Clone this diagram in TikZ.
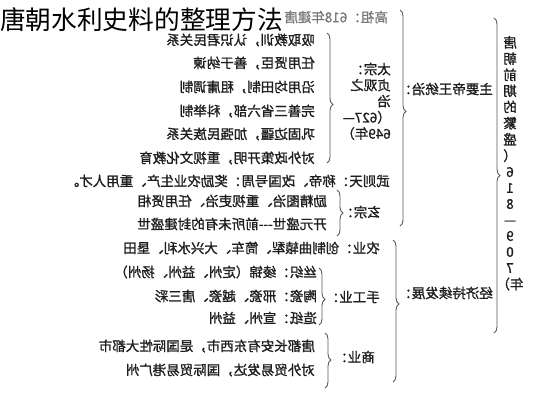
\documentclass[tikz,border=0pt]{standalone}
\usepackage{fontspec}
\usepackage{graphicx}
\newfontfamily\cjk{Noto Sans CJK SC}
\newfontfamily\cjkb[FakeBold=1.2]{Noto Sans CJK SC}
\usetikzlibrary{decorations.pathreplacing}
\definecolor{ink}{HTML}{1E1E1E}
\definecolor{soft}{HTML}{7A7A7A}
\definecolor{bracec}{HTML}{5A5A5A}
\newcommand{\mr}[1]{\reflectbox{#1}}
\begin{document}
\begin{tikzpicture}[x=1pt,y=-1pt,
  txt/.style={font=\cjkb\fontsize{13.5}{15.5}\selectfont, inner sep=0pt, anchor=east, text=ink},
  br/.style={draw=bracec, line width=0.9pt, decorate, decoration={brace, amplitude=6pt}}]
\fill[white] (0,0) rectangle (533,400);
\useasboundingbox (0,0) rectangle (533,400);

% vertical heading
\node[txt, anchor=center] (head) at (510,165) {\mr{\fontsize{13.5}{16}\selectfont\begin{tabular}{@{}c@{}}唐\\朝\\前\\期\\的\\繁\\盛\\（\\6\\1\\8\\—\\9\\0\\7\\年）\end{tabular}}};

% level 1 labels
\node[txt] (rule) at (493,89) {\mr{主要帝王统治：}};
\node[txt] (econ) at (493,293) {\mr{经济持续发展：}};

% emperors
\node[txt, text=soft] (gaozu) at (388,17) {\mr{高祖：618年建唐}};
\node[txt] (taizong) at (391,103) {\mr{\begin{tabular}{@{}l@{}}太宗：\\贞观之\\治\\（627—\\649年）\end{tabular}}};
\node[txt] (tz1) at (315,40) {\mr{吸取教训，认识君民关系}};
\node[txt] (tz2) at (315,63) {\mr{任用贤臣，善于纳谏}};
\node[txt] (tz3) at (315,87) {\mr{沿用均田制，租庸调制}};
\node[txt] (tz4) at (315,111) {\mr{完善三省六部，科举制}};
\node[txt] (tz5) at (315,134) {\mr{巩固边疆，加强民族关系}};
\node[txt] (tz6) at (315,158) {\mr{对外政策开明，重视文化教育}};
\node[txt] (wu) at (390,181) {\mr{武则天：称帝、改国号周：奖励农业生产、重用人才。}};
\node[txt] (xuanzong) at (381,212) {\mr{玄宗：}};
\node[txt] (xz1) at (327,201) {\mr{励精图治、重视吏治、任用贤相}};
\node[txt] (xz2) at (327,224) {\mr{开元盛世---前所未有的封建盛世}};

% economy
\node[txt] (agri) at (380,248) {\mr{农业：创制曲辕犁、筒车、大兴水利、垦田}};
\node[txt] (craft) at (380,297) {\mr{手工业：}};
\node[txt] (cr1) at (317,272) {\mr{丝织：绫锦（定州、益州、扬州）}};
\node[txt] (cr2) at (317,296) {\mr{陶瓷：邢瓷、越瓷、唐三彩}};
\node[txt] (cr3) at (317,318) {\mr{造纸：宣州、益州}};
\node[txt] (trade) at (375,357) {\mr{商业：}};
\node[txt] (tr1) at (315,346) {\mr{唐都长安有东西市，是国际性大都市}};
\node[txt] (tr2) at (315,370) {\mr{对外贸易发达，国际贸易港广州}};

% braces
\coordinate (oA) at (494,18);  \coordinate (oB) at (494,333);
\coordinate (rA) at (400,10);  \coordinate (rB) at (400,226);
\coordinate (tA) at (327,33);  \coordinate (tB) at (327,163);
\coordinate (xA) at (337,190); \coordinate (xB) at (337,236);
\coordinate (eA) at (393,240); \coordinate (eB) at (393,382);
\coordinate (cA) at (319,268); \coordinate (cB) at (319,325);
\coordinate (mA) at (325,333); \coordinate (mB) at (325,388);
\draw[br, decoration={aspect=0.5}] (oA) -- (oB);
\draw[br, decoration={aspect=0.47}] (rA) -- (rB);
\draw[br, decoration={aspect=0.55}] (tA) -- (tB);
\draw[br, decoration={aspect=0.5}] (xA) -- (xB);
\draw[br, decoration={aspect=0.45}] (eA) -- (eB);
\draw[br, decoration={aspect=0.55}] (cA) -- (cB);
\draw[br, decoration={aspect=0.49}] (mA) -- (mB);

% title overlay
\node[font=\cjk\fontsize{25.7}{28}\selectfont, anchor=west, inner sep=0pt, text=black] (title) at (0,20) {唐朝水利史料的整理方法};
\end{tikzpicture}
\end{document}
